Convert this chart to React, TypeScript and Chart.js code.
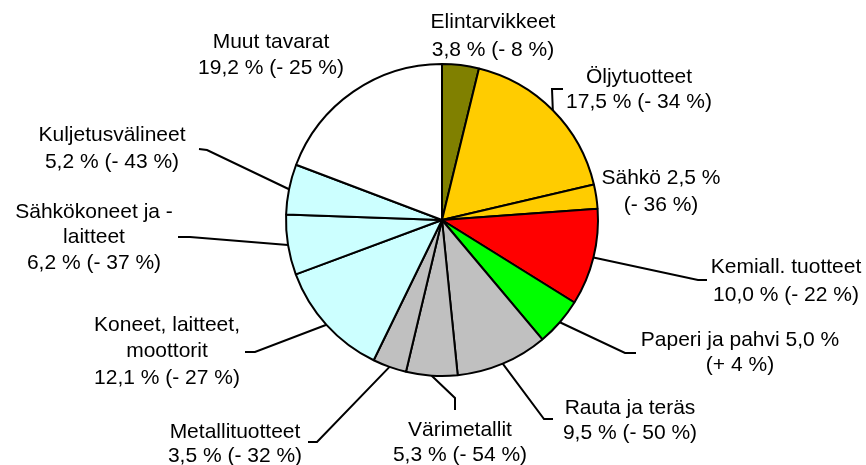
import { useEffect, useRef } from "react";
import { Chart, registerables } from "chart.js";

Chart.register(...registerables);

// ---- data ----
const categories = [
  "Elintarvikkeet",
  "Öljytuotteet",
  "Sähkö",
  "Kemiall. tuotteet",
  "Paperi ja pahvi",
  "Rauta ja teräs",
  "Värimetallit",
  "Metallituotteet",
  "Koneet, laitteet,\nmoottorit",
  "Sähkökoneet ja -\nlaitteet",
  "Kuljetusvälineet",
  "Muut tavarat",
];
const shares = [3.8, 17.5, 2.5, 10.0, 5.0, 9.5, 5.3, 3.5, 12.1, 6.2, 5.2, 19.2];
const changes = ["- 8", "- 34", "- 36", "- 22", "+ 4", "- 50", "- 54", "- 32", "- 27", "- 37", "- 43", "- 25"];
const colors = [
  "#808000",
  "#FFCC00",
  "#FFCC00",
  "#FF0000",
  "#00FF00",
  "#C0C0C0",
  "#C0C0C0",
  "#C0C0C0",
  "#CCFFFF",
  "#CCFFFF",
  "#CCFFFF",
  "#FFFFFF",
];

// ---- label layout (annotation positions, not data) ----
type Layout = {
  cx: number;
  cy: number;
  lh: number;
  inline?: boolean;
  leader?: [number, number][];
};
const layout: Layout[] = [
  { cx: 493, cy: 22, lh: 28 },
  { cx: 639, cy: 77, lh: 25, leader: [[552, 89], [563, 89]] },
  { cx: 661, cy: 178, lh: 27, inline: true },
  { cx: 786, cy: 267, lh: 28, leader: [[698, 280], [707, 280]] },
  { cx: 740, cy: 340, lh: 25, inline: true, leader: [[625, 353], [636, 353]] },
  { cx: 630, cy: 408, lh: 25, leader: [[544, 419], [553, 419]] },
  { cx: 460, cy: 430, lh: 25, leader: [[455, 398], [455, 410]] },
  { cx: 235, cy: 432, lh: 24, leader: [[317, 442], [308, 442]] },
  { cx: 167, cy: 325, lh: 26.5, leader: [[255, 352], [245, 352]] },
  { cx: 94, cy: 212, lh: 25.5, leader: [[190, 237], [178, 237]] },
  { cx: 112, cy: 135, lh: 27, leader: [[207, 150], [199, 149]] },
  { cx: 271, cy: 42, lh: 26 },
];

const fmtShare = (v: number) => v.toFixed(1).replace(".", ",") + " %";

function labelLines(i: number): string[] {
  const names = categories[i].split("\n");
  const share = fmtShare(shares[i]);
  const chg = `(${changes[i]} %)`;
  if (layout[i].inline) {
    const out = names.slice(0, -1);
    out.push(names[names.length - 1] + " " + share);
    out.push(chg);
    return out;
  }
  return [...names, `${share} ${chg}`];
}

const labelPlugin = {
  id: "pieLabels",
  afterDatasetsDraw(chart: any) {
    const ctx = chart.ctx as CanvasRenderingContext2D;
    const meta = chart.getDatasetMeta(0);
    ctx.save();
    // leader lines
    ctx.strokeStyle = "#000";
    ctx.lineWidth = 2;
    meta.data.forEach((el: any, i: number) => {
      const lay = layout[i];
      if (!lay || !lay.leader) return;
      const p = el.getProps(["x", "y", "startAngle", "endAngle", "outerRadius"], true);
      const mid = (p.startAngle + p.endAngle) / 2;
      const sx = p.x + Math.cos(mid) * p.outerRadius;
      const sy = p.y + Math.sin(mid) * p.outerRadius;
      ctx.beginPath();
      ctx.moveTo(sx, sy);
      lay.leader.forEach(([lx, ly]) => ctx.lineTo(lx, ly));
      ctx.stroke();
    });
    // texts
    ctx.fillStyle = "#000";
    ctx.font = '21px "Liberation Sans", Arial, sans-serif';
    ctx.textAlign = "center";
    ctx.textBaseline = "middle";
    meta.data.forEach((_el: any, i: number) => {
      const lay = layout[i];
      const lines = labelLines(i);
      lines.forEach((t, k) => ctx.fillText(t, lay.cx, lay.cy + k * lay.lh));
    });
    ctx.restore();
  },
};

export default function App() {
  const ref = useRef<HTMLCanvasElement | null>(null);
  useEffect(() => {
    document.body.style.margin = "0";
    const canvas = ref.current;
    if (!canvas) return;
    const chart = new Chart(canvas, {
      type: "pie",
      data: {
        labels: categories,
        datasets: [
          {
            data: shares,
            backgroundColor: colors,
            borderColor: "#000",
            borderWidth: 2,
          },
        ],
      },
      options: {
        responsive: false,
        animation: false,
        devicePixelRatio: 1,
        layout: { padding: { left: 282, right: 264, top: 63, bottom: 88 } },
        plugins: {
          legend: { display: false },
          tooltip: { enabled: false },
        },
      },
      plugins: [labelPlugin],
    });
    return () => chart.destroy();
  }, []);
  return (
    <div style={{ width: 866, height: 465, background: "#fff" }}>
      <canvas ref={ref} width={866} height={465} />
    </div>
  );
}
